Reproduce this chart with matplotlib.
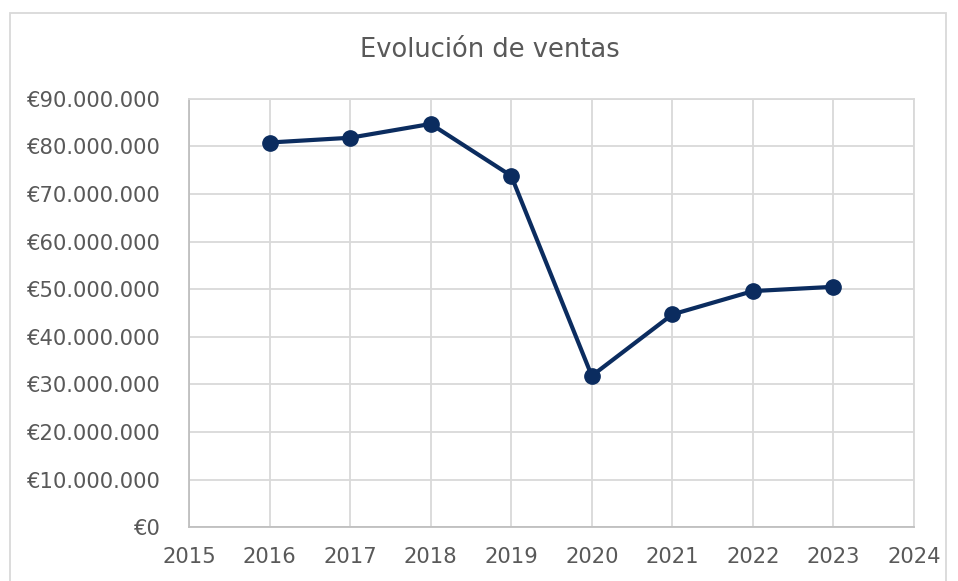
import matplotlib
matplotlib.use("Agg")
import matplotlib.pyplot as plt
from matplotlib.ticker import FuncFormatter, MultipleLocator
from matplotlib.patches import Rectangle

years = [2016, 2017, 2018, 2019, 2020, 2021, 2022, 2023]
ventas = [80.8e6, 81.8e6, 84.7e6, 73.8e6, 31.8e6, 44.7e6, 49.6e6, 50.5e6]
title = "Evolución de ventas"

line_color = "#0B2C5F"
text_color = "#595959"
grid_color = "#D9D9D9"

plt.rcParams['font.family'] = ['DejaVu Sans']

fig = plt.figure(figsize=(9.58, 5.81), dpi=100)
ax = fig.add_axes([189/958, 1 - 527.3/581, (914-189)/958, (527.3-98.7)/581])

ax.plot(years, ventas, color=line_color, lw=3, marker='o', ms=11,
        markerfacecolor=line_color, markeredgecolor=line_color, zorder=3, clip_on=False)

ax.set_xlim(2015, 2024)
ax.set_ylim(0, 90e6)
ax.xaxis.set_major_locator(MultipleLocator(1))
ax.yaxis.set_major_locator(MultipleLocator(10e6))

def fmt(v, pos):
    v = int(round(v))
    return "€" + f"{v:,}".replace(",", ".")
ax.yaxis.set_major_formatter(FuncFormatter(fmt))
ax.xaxis.set_major_formatter(FuncFormatter(lambda v, p: f"{int(round(v))}"))

ax.grid(True, color=grid_color, lw=1.3)
ax.set_axisbelow(True)
for s in ['top', 'right']:
    ax.spines[s].set_color(grid_color)
    ax.spines[s].set_linewidth(1.3)
for s in ['left', 'bottom']:
    ax.spines[s].set_color("#BFBFBF")
    ax.spines[s].set_linewidth(1.3)
ax.tick_params(length=0, labelsize=15.2, colors=text_color)
ax.tick_params(axis='x', pad=14)
ax.tick_params(axis='y', pad=20)

fig.text(490/958, 1 - 50/581, title, ha='center', va='center', fontsize=18.5, color=text_color)

fig.patches.append(Rectangle((10/958, -0.1), (946-10)/958, 1.1 - 13/581,
                             transform=fig.transFigure, fill=False,
                             edgecolor="#D9D9D9", lw=1.3))

fig.savefig("out.png", dpi=100)
